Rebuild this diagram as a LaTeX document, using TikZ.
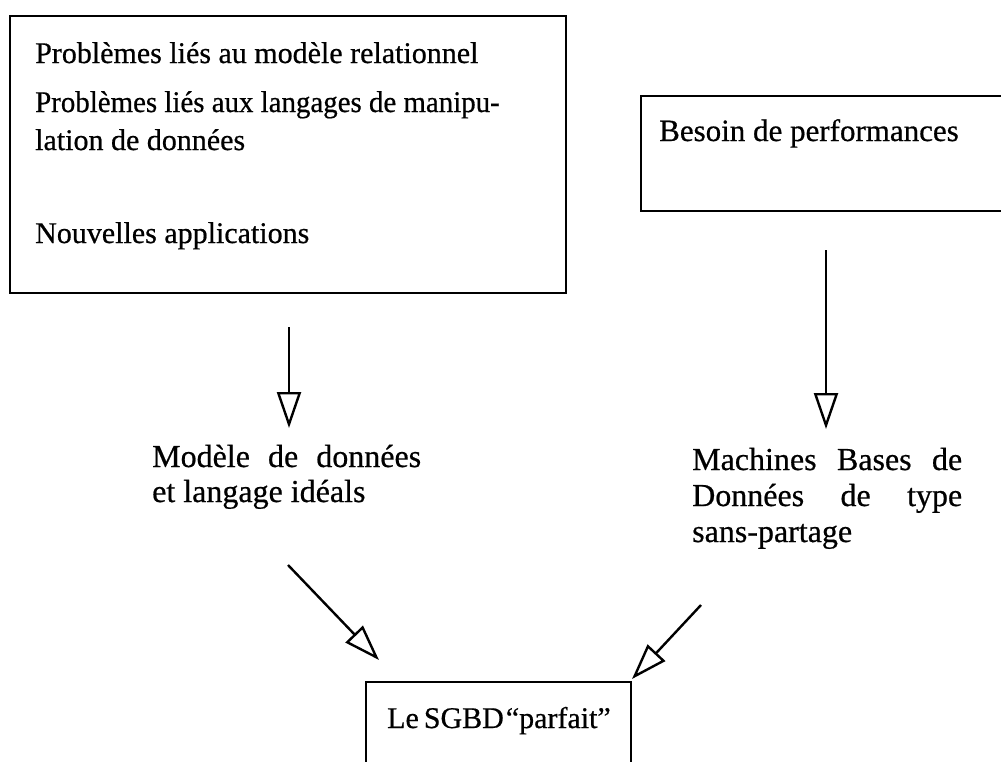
\documentclass[tikz,border=0pt]{standalone}
\usepackage{fontspec}
\setmainfont{Liberation Serif}[FakeBold=0.6]
\usetikzlibrary{arrows.meta}
\begin{document}
\begin{tikzpicture}[x=1pt,y=-1pt,
  frame/.style={draw, line width=2.2pt, rectangle, inner sep=0pt},
  txt/.style={anchor=base west, inner sep=0pt, font=\fontsize{30}{36}\selectfont},
  big/.style={txt, font=\fontsize{32}{38}\selectfont},
  flow/.style={line width=2.4pt,
    -{Triangle[open, length=36pt, width=24pt, line width=2.4pt]}}]
\useasboundingbox (0,0) rectangle (1001,761);
\clip (0,0) rectangle (1001,761);

% frames
\node[frame, minimum width=556pt, minimum height=277pt] (probs) at (288,154.5) {};
\node[frame, minimum width=439pt, minimum height=115pt] (perf) at (860.5,153.5) {};
\node[frame, minimum width=265pt, minimum height=138pt] (sgbd) at (498.5,751) {};

% texts of the upper left frame
\node[txt] (p1) at (35,63) {Problèmes liés au modèle relationnel};
\node[txt] (p2) at (35,112) {\scalebox{0.963}[1]{Problèmes liés aux langages de manipu-}};
\node[txt] (p3) at (35,150) {lation de données};
\node[txt] (p4) at (35,243) {Nouvelles applications};

% upper right frame
\node[txt, font=\fontsize{31}{36}\selectfont] (b1) at (659,141) {Besoin de performances};

% intermediate results
\node[big] (m1) at (152,467) {\makebox[269pt][s]{Modèle de données}};
\node[big] (m2) at (152,502) {et langage idéals};

\node[big] (k1) at (692,470) {\makebox[270pt][s]{Machines Bases de}};
\node[big] (k2) at (692,506) {\makebox[270pt][s]{Données de type}};
\node[big] (k3) at (692,542) {sans-partage};

% final frame
\node[txt] (s1) at (387,728) {Le\hspace{5pt}SGBD\hspace{2pt}“parfait”};

% arrow ends
\coordinate (a1s) at (289,327);
\coordinate (a1e) at (289,428);
\coordinate (a2s) at (826,250);
\coordinate (a2e) at (826,429);
\coordinate (a3s) at (288,565);
\coordinate (a3e) at (379,660);
\coordinate (a4s) at (701,605);
\coordinate (a4e) at (632,679);

\draw[flow] (a1s) -- (a1e);
\draw[flow] (a2s) -- (a2e);
\draw[flow] (a3s) -- (a3e);
\draw[flow] (a4s) -- (a4e);
\end{tikzpicture}
\end{document}
